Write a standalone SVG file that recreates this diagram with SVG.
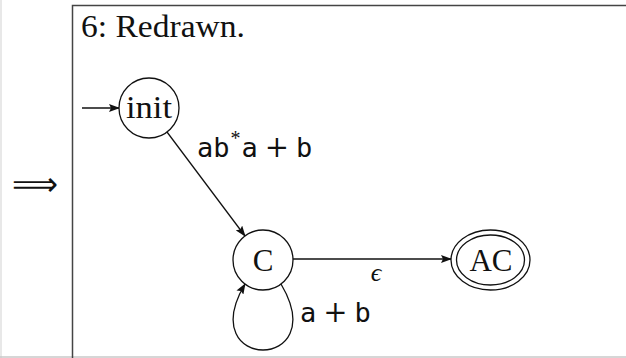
<svg xmlns="http://www.w3.org/2000/svg" width="626" height="358" viewBox="0 0 626 358">
<style>
.st{fill:#fff;stroke:#111;stroke-width:1.3}
.ln{fill:none;stroke:#111;stroke-width:1.3}
.lbl{font-family:"Liberation Serif",serif;font-size:31px;fill:#111;text-anchor:middle}
.tt{font-family:"DejaVu Sans Mono",monospace;font-size:27px;fill:#111}
.rm{font-family:"Liberation Serif",serif;font-size:30px;fill:#111}
.pl{font-family:"DejaVu Serif",serif;font-size:29px}
</style>
<defs>
<marker id="ah" markerWidth="11" markerHeight="8" refX="10" refY="4" orient="auto" markerUnits="userSpaceOnUse">
<path d="M0,0 L11,4 L0,8 L2,4 Z" fill="#111"/>
</marker>
</defs>
<rect width="626" height="358" fill="#fff"/>
<line x1="1" y1="0" x2="1" y2="358" stroke="#e0e0e0" stroke-width="1.5"/>
<line x1="0" y1="357" x2="626" y2="357" stroke="#c8c8c8" stroke-width="1.5"/>
<path d="M72.5,358 V5.5 H626" fill="none" stroke="#444" stroke-width="1.5"/>
<text x="12" y="195" style="font-family:'DejaVu Sans',sans-serif;font-size:32px;fill:#111" textLength="46" lengthAdjust="spacingAndGlyphs">⟹</text>
<text x="81" y="37" class="rm" style="font-size:31px" textLength="164" lengthAdjust="spacingAndGlyphs">6: Redrawn.</text>
<g id="connectors">
<line class="ln" x1="82" y1="108" x2="119" y2="108" marker-end="url(#ah)"/>
<line class="ln" x1="167" y1="132" x2="245" y2="236" marker-end="url(#ah)"/>
<line class="ln" x1="293" y1="259" x2="451" y2="259" marker-end="url(#ah)"/>
<path class="ln" d="M281,284 C333,372 193,372 245,284" marker-end="url(#ah)"/>
<text x="197" y="157" class="tt">ab<tspan dy="-12" dx="1" font-size="20" font-family="'Liberation Serif',serif">*</tspan><tspan dy="12" dx="1">a</tspan><tspan class="pl" dx="7">+</tspan><tspan dx="7">b</tspan></text>
<text x="376" y="281" class="lbl" style="font-style:italic;font-size:26px">ϵ</text>
<text x="300" y="322" class="tt">a<tspan class="pl" dx="7">+</tspan><tspan dx="7">b</tspan></text>
</g>
<g id="node-init">
<circle class="st" cx="149" cy="108" r="30"/>
<text x="149" y="118" class="lbl" textLength="46" lengthAdjust="spacingAndGlyphs">init</text>
</g>
<g id="node-C">
<circle class="st" cx="263" cy="260" r="30"/>
<text x="263" y="271" class="lbl">C</text>
</g>
<g id="node-AC">
<ellipse class="st" cx="490.5" cy="260" rx="39.5" ry="30"/>
<ellipse class="st" cx="490.5" cy="260" rx="34" ry="25"/>
<text x="491" y="271" class="lbl">AC</text>
</g>
</svg>
